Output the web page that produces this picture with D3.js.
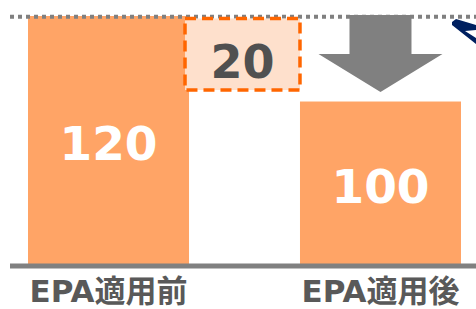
<!DOCTYPE html>
<html>
<head>
<meta charset="utf-8">
<script src="https://cdn.jsdelivr.net/npm/d3@7.9.0/dist/d3.min.js"></script>
<style>
  body { margin: 0; background: #fff; }
  svg { display: block; font-family: Verdana, "DejaVu Sans", "Noto Sans CJK JP", sans-serif; font-weight: bold; }
</style>
</head>
<body>
<svg id="chart" width="476" height="309"></svg>
<script>
const categories = ["EPA適用前", "EPA適用後"];
const values = [120, 100];
const diffLabel = ["20"];

const width = 476, height = 309;
const baseY = 264;

const svg = d3.select("#chart");

// baseline is not zero in the original diagram
const x = d3.scaleBand().domain(categories).range([28, 461]).paddingInner(0.408).paddingOuter(0);
const y = d3.scaleLinear().domain([62, 120]).range([baseY, 16]);

// bars
svg.selectAll("rect.bar")
  .data(values)
  .join("rect")
  .attr("class", "bar")
  .attr("x", (d, i) => x(categories[i]))
  .attr("y", d => y(d))
  .attr("width", x.bandwidth())
  .attr("height", d => baseY - y(d))
  .attr("fill", "#ffa466");

// dotted reference line at top value
svg.append("line")
  .attr("x1", 10).attr("x2", width)
  .attr("y1", y(values[0]) + 0.7).attr("y2", y(values[0]) + 0.7)
  .attr("stroke", "#808080")
  .attr("stroke-width", 4)
  .attr("stroke-dasharray", "4 4");

// dashed difference box
const boxX0 = x(categories[0]) + x.bandwidth() - 4;
const boxX1 = x(categories[1]);
svg.append("rect")
  .attr("x", boxX0)
  .attr("y", y(values[0]) + 2.5)
  .attr("width", boxX1 - boxX0)
  .attr("height", y(values[1]) - y(values[0]) - 14)
  .attr("fill", "#fee0cc")
  .attr("stroke", "#ff6600")
  .attr("stroke-width", 3.5)
  .attr("stroke-dasharray", "11 6");

svg.append("text")
  .attr("x", (boxX0 + boxX1) / 2)
  .attr("y", 78)
  .attr("text-anchor", "middle")
  .attr("font-size", 46)
  .attr("fill", "#505050")
  .text(diffLabel[0]);

// gray down arrow
const ax = x(categories[1]) + x.bandwidth() / 2;
svg.append("path")
  .attr("d", d3.line()([
    [ax - 31, 15], [ax + 31, 15], [ax + 31, 54], [ax + 62, 54],
    [ax, 92], [ax - 62, 54], [ax - 31, 54]
  ]) + "Z")
  .attr("fill", "#808080");

// navy arrow fragment at right edge
svg.append("path")
  .attr("d", d3.line()([
    [452, 22], [456, 19], [476, 25], [476, 30], [465, 31],
    [476, 38], [476, 44], [452, 25]
  ]) + "Z")
  .attr("fill", "#002060");

// value labels
svg.selectAll("text.val")
  .data(values)
  .join("text")
  .attr("class", "val")
  .attr("x", (d, i) => x(categories[i]) + x.bandwidth() / 2)
  .attr("y", d => (y(d) + baseY) / 2 + 20)
  .attr("text-anchor", "middle")
  .attr("font-size", 47)
  .attr("fill", "#fff")
  .text(d => d);

// axis line
svg.append("line")
  .attr("x1", 10).attr("x2", width)
  .attr("y1", 266).attr("y2", 266)
  .attr("stroke", "#808080")
  .attr("stroke-width", 5);

// category labels
svg.selectAll("text.cat")
  .data(categories)
  .join("text")
  .attr("class", "cat")
  .attr("x", d => x(d) + x.bandwidth() / 2)
  .attr("y", 301.5)
  .attr("text-anchor", "middle")
  .attr("font-size", 31)
  .attr("fill", "#595959")
  .text(d => d);
</script>
</body>
</html>
